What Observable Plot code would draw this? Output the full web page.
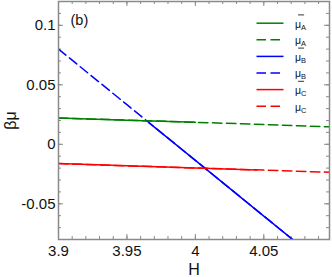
<!DOCTYPE html>
<html><head><meta charset="utf-8">
<script src="https://cdn.jsdelivr.net/npm/d3@7"></script>
<script src="https://cdn.jsdelivr.net/npm/@observablehq/plot@0.6"></script>
<style>body{margin:0;background:#fff} svg{display:block}</style>
</head><body><div id="chart"></div>
<script>
// ---- data ----
const hGrid = [3.9, 3.95, 4.0, 4.05, 4.1];
const muA = [0.0221, 0.0203, 0.0185, 0.0166, 0.0146];
const muB = [0.080, 0.0333, -0.0135, -0.0603, -0.107];
const muC = [-0.0162, -0.0181, -0.0199, -0.0217, -0.0236];
const hA_bar = [3.9, 3.95, 4.0];
const muA_bar = [0.0221, 0.0203, 0.0185];
const hB_bar = [3.966, 4.0, 4.05, 4.1];
const muB_bar = [0.0182, -0.0135, -0.0603, -0.107];
const hC_bar = [3.9, 3.95, 4.0, 4.045];
const muC_bar = [-0.0162, -0.0181, -0.0199, -0.0215];
const xTicks = [3.9, 3.95, 4.0, 4.05];
const xTickLabels = ["3.9", "3.95", "4", "4.05"];
const yTicks = [0.1, 0.05, 0, -0.05];
const yTickLabels = ["0.1", "0.05", "0", "-0.05"];
const legendSub = ["A", "A", "B", "B", "C", "C"];
const legendBar = [true, false, true, false, true, false];
const seriesColors = {A: "#008000", B: "#0000ff", C: "#ff0000"};

// ---- layout ----
const W = 332, Hh = 277;
const mL = 58, mR = 3, mT = 1, mB = 38;
const xDomain = [3.9, 4.098], yDomain = [-0.08, 0.12];
const innerH = Hh - mT - mB;
const FONT = "Liberation Sans, Arial, Helvetica, sans-serif";
const axisGray = "#8a8a8a";
const dash = "9.5,4.5";

const xs = Plot.scale({x: {domain: xDomain, range: [mL, W - mR]}});
const ys = Plot.scale({y: {domain: yDomain, range: [Hh - mB, mT]}});

const minorX = d3.range(0, 21).map(i => +(3.9 + i * 0.01).toFixed(2)).filter(v => v <= xDomain[1]);
const minorY = d3.range(0, 21).map(i => +(-0.08 + i * 0.01).toFixed(2));

const pts = (hs, vs) => hs.map((h, i) => ({h, v: vs[i]}));

// legend geometry (pixels -> data via scale inversion)
const legend = legendSub.map((s, i) => {
  const py = 22.7 + i * 16.6;
  return {s, bar: legendBar[i], i,
    x1: xs.invert(256), x2: xs.invert(283), y: ys.invert(py),
    tx: xs.invert(294.6), ty: ys.invert(py + 4.4),
    sx: xs.invert(300.6), sy: ys.invert(py + 6.4),
    bx1: xs.invert(297.6), bx2: xs.invert(303.6), by: ys.invert(py - 8.3)};
});
const legSolid = legend.filter(d => d.bar);
const legDash = legend.filter(d => !d.bar);

const lineOpts = (c, d) => ({x: "h", y: "v", stroke: c, strokeWidth: 1.5, clip: true, strokeDasharray: d});
const legLinkOpts = (d) => ({x1: "x1", x2: "x2", y1: "y", y2: "y", stroke: e => seriesColors[e.s], strokeWidth: 1.5, strokeDasharray: d});

const marks = [
  // ticks (inward), bottom/top/left/right
  Plot.ruleX(minorX, {x: d => d, insetTop: innerH - 3, stroke: axisGray}),
  Plot.ruleX(minorX, {x: d => d, insetBottom: innerH - 3, stroke: axisGray}),
  Plot.ruleX(xTicks, {x: d => d, insetTop: innerH - 5, stroke: axisGray}),
  Plot.ruleX(xTicks, {x: d => d, insetBottom: innerH - 5, stroke: axisGray}),
  Plot.ruleY(minorY, {y: d => d, insetRight: (W - mL - mR) - 3, stroke: axisGray}),
  Plot.ruleY(minorY, {y: d => d, insetLeft: (W - mL - mR) - 3, stroke: axisGray}),
  Plot.ruleY(yTicks, {y: d => d, insetRight: (W - mL - mR) - 5, stroke: axisGray}),
  Plot.ruleY(yTicks, {y: d => d, insetLeft: (W - mL - mR) - 5, stroke: axisGray}),
  // data lines
  Plot.line(pts(hGrid, muA), lineOpts(seriesColors.A, dash)),
  Plot.line(pts(hGrid, muB), lineOpts(seriesColors.B, dash)),
  Plot.line(pts(hGrid, muC), lineOpts(seriesColors.C, dash)),
  Plot.line(pts(hA_bar, muA_bar), lineOpts(seriesColors.A)),
  Plot.line(pts(hB_bar, muB_bar), lineOpts(seriesColors.B)),
  Plot.line(pts(hC_bar, muC_bar), lineOpts(seriesColors.C)),
  // legend
  Plot.link(legSolid, legLinkOpts(null)),
  Plot.link(legDash, legLinkOpts(dash)),
  Plot.text(legend, {x: "tx", y: "ty", text: () => "μ", textAnchor: "start", lineAnchor: "bottom", fontSize: 10.5, fill: "#111"}),
  Plot.text(legend, {x: "sx", y: "sy", text: "s", textAnchor: "start", lineAnchor: "bottom", fontSize: 7.5, fill: "#111"}),
  Plot.link(legSolid, {x1: "bx1", x2: "bx2", y1: "by", y2: "by", stroke: "#333", strokeWidth: 1}),
  // axes (labels only)
  Plot.axisX(xTicks, {tickSize: 0, tickPadding: 6, fontSize: 15, tickFormat: (d, i) => xTickLabels[i], label: null}),
  Plot.axisY(yTicks, {tickSize: 0, tickPadding: 3, fontSize: 15, tickFormat: (d, i) => yTickLabels[i], label: null}),
  Plot.text(["H"], {frameAnchor: "bottom", dy: 30, lineAnchor: "middle", textAnchor: "middle", fontSize: 16, fill: "#111"}),
  Plot.text(["βμ"], {frameAnchor: "left", dx: -48, rotate: -90, lineAnchor: "middle", textAnchor: "middle", fontSize: 16, fill: "#111"}),
  Plot.text(["(b)"], {frameAnchor: "top-left", dx: 12, dy: 23, lineAnchor: "bottom", textAnchor: "start", fontSize: 14.5, fill: "#111"}),
  Plot.frame({stroke: axisGray, strokeWidth: 1.5})
];

const chart = Plot.plot({
  width: W, height: Hh,
  marginLeft: mL, marginRight: mR, marginTop: mT, marginBottom: mB,
  x: {domain: xDomain},
  y: {domain: yDomain},
  style: {fontFamily: FONT, color: "#111", background: "#fff"},
  marks
});
document.getElementById("chart").append(chart);
</script>
</body></html>
